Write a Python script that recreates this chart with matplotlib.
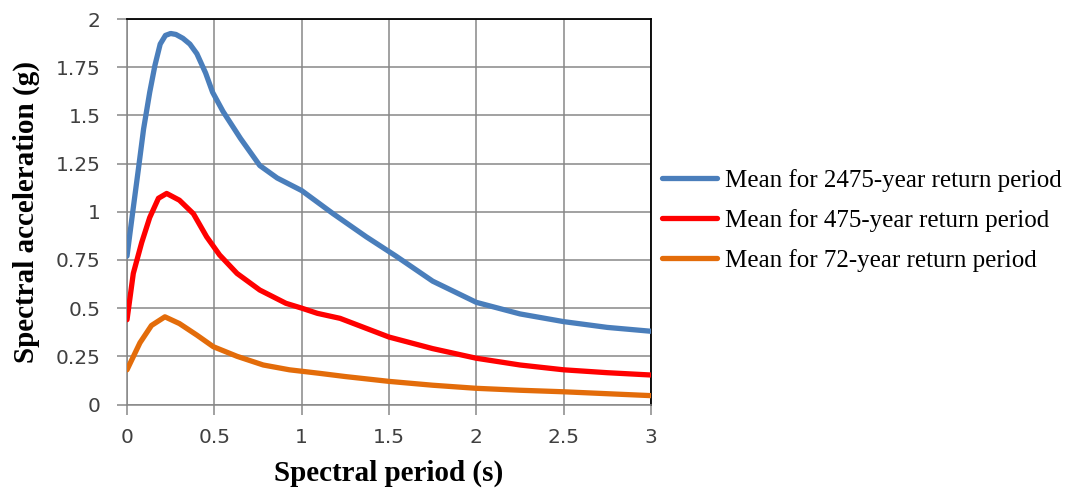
import numpy as np
import matplotlib
matplotlib.use("Agg")
import matplotlib.pyplot as plt

# spectral periods (s) and mean spectral accelerations (g)
t_2475 = [0, 0.03, 0.065, 0.095, 0.13, 0.16, 0.19, 0.22, 0.25, 0.28, 0.32, 0.36, 0.40,
          0.45, 0.49, 0.55, 0.65, 0.76, 0.86, 1.0, 1.18, 1.37, 1.54, 1.75, 2.0,
          2.25, 2.5, 2.75, 3.0]
sa_2475 = [0.77, 0.98, 1.22, 1.43, 1.62, 1.76, 1.87, 1.915, 1.925, 1.92, 1.90, 1.87, 1.82,
           1.72, 1.62, 1.52, 1.38, 1.24, 1.175, 1.11, 0.99, 0.87, 0.77, 0.64, 0.53,
           0.47, 0.43, 0.40, 0.38]

t_475 = [0, 0.036, 0.084, 0.13, 0.18, 0.227, 0.30, 0.38, 0.456, 0.53, 0.63, 0.76,
         0.91, 1.0, 1.09, 1.22, 1.5, 1.75, 2.0, 2.25, 2.5, 2.75, 3.0]
sa_475 = [0.44, 0.68, 0.84, 0.97, 1.07, 1.095, 1.06, 0.99, 0.87, 0.776, 0.68, 0.594,
          0.525, 0.50, 0.473, 0.447, 0.35, 0.29, 0.24, 0.205, 0.18, 0.165, 0.153]

t_72 = [0, 0.074, 0.14, 0.217, 0.30, 0.40, 0.494, 0.63, 0.78, 0.93, 1.1, 1.25,
        1.5, 1.75, 2.0, 2.25, 2.5, 2.75, 3.0]
sa_72 = [0.18, 0.32, 0.41, 0.455, 0.42, 0.36, 0.30, 0.25, 0.205, 0.18, 0.162, 0.145,
         0.12, 0.10, 0.084, 0.074, 0.066, 0.056, 0.046]

labels = ["Mean for 2475-year return period",
          "Mean for 475-year return period",
          "Mean for 72-year return period"]
colors = ["#4a7ebb", "#ff0000", "#e36c0a"]

xticks = [0, 0.5, 1, 1.5, 2, 2.5, 3]
xticklabels = ["0", "0.5", "1", "1.5", "2", "2.5", "3"]
yticks = [0, 0.25, 0.5, 0.75, 1, 1.25, 1.5, 1.75, 2]
yticklabels = ["0", "0.25", "0.5", "0.75", "1", "1.25", "1.5", "1.75", "2"]

fig = plt.figure(figsize=(10.7, 4.88), dpi=100)
ax = fig.add_axes([0.1187, 0.1711, 0.4897, 0.7899])

grid_c = "#878787"
for t, sa, lab, c in zip([t_2475, t_475, t_72], [sa_2475, sa_475, sa_72], labels, colors):
    ax.plot(t, sa, color=c, lw=3.8, label=lab, solid_capstyle="round",
            solid_joinstyle="round", zorder=3)

ax.set_xlim(0, 3)
ax.set_ylim(0, 2)
ax.set_xticks(xticks)
ax.set_xticklabels(xticklabels)
ax.set_yticks(yticks)
ax.set_yticklabels(yticklabels)
ax.grid(True, color=grid_c, lw=1.1)
ax.set_axisbelow(True)
ax.tick_params(direction="out", length=7, width=1.1, color=grid_c,
               labelsize=14.5, labelcolor="#404040")
ax.tick_params(axis="x", pad=10)
ax.tick_params(axis="y", pad=12)
for s in ["left", "bottom"]:
    ax.spines[s].set_color(grid_c)
    ax.spines[s].set_linewidth(1.1)
for s in ["top", "right"]:
    ax.spines[s].set_color("black")
    ax.spines[s].set_linewidth(1.3)

ax.set_xlabel("Spectral period (s)", family="Liberation Serif", weight="bold",
              fontsize=21, labelpad=9)
ax.set_ylabel("Spectral acceleration (g)", family="Liberation Serif", weight="bold",
              fontsize=21, labelpad=11)

fig.legend(loc="center left", bbox_to_anchor=(0.6187, 0.549), frameon=False,
           prop={"family": "Liberation Serif", "size": 18},
           handlelength=2.2, handletextpad=0.32, labelspacing=0.68,
           borderpad=0, borderaxespad=0)

fig.savefig("out.png", dpi=100)
